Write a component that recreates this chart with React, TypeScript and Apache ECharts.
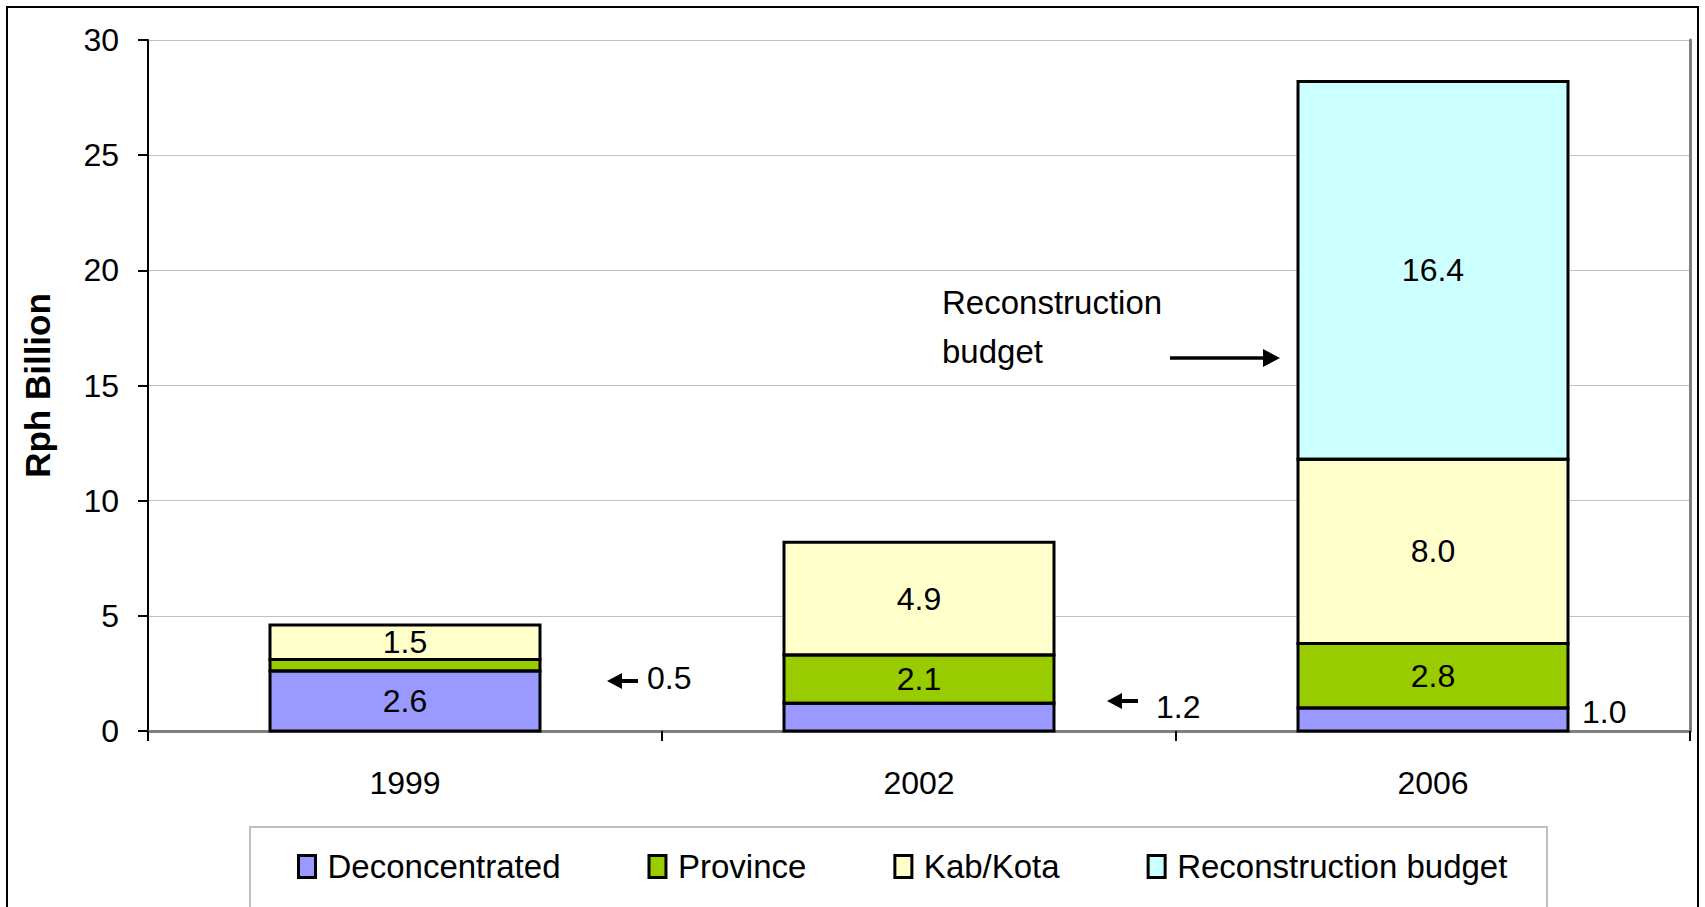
import React, { useEffect, useRef } from "react";
import * as echarts from "echarts";

const years = ["1999", "2002", "2006"];
const deconcentrated: (number | null)[] = [2.6, 1.2, 1.0];
const province: (number | null)[] = [0.5, 2.1, 2.8];
const kabKota: (number | null)[] = [1.5, 4.9, 8.0];
const reconstruction: (number | null)[] = [null, null, 16.4];
const seriesNames = ["Deconcentrated", "Province", "Kab/Kota", "Reconstruction budget"];
const seriesValues = [deconcentrated, province, kabKota, reconstruction];
const yMin = 0;
const yMax = 30;
const yInterval = 5;
const yAxisTitle = "Rph Billion";
const noteLines = ["Reconstruction", "budget"];

// segment values whose labels sit outside their bar
const outsideLabels = [
  { seriesIndex: 1, cat: 0 },
  { seriesIndex: 0, cat: 1 },
  { seriesIndex: 0, cat: 2 },
];

const colors = ["#9999ff", "#99cc00", "#ffffcc", "#ccffff"];
const FONT = "Liberation Sans, Arial, sans-serif";
const BAR_WIDTH = 270;

// pixel placement of outside labels relative to category centre / zero line
const outsideLayout = [
  { arrow: true, tipDx: 202, arrowDy: -50, textDx: 242, textDy: -53 },
  { arrow: true, tipDx: 188, arrowDy: -30, textDx: 237, textDy: -24 },
  { arrow: false, tipDx: 0, arrowDy: 0, textDx: 149, textDy: -19 },
];

export default function App() {
  const ref = useRef<HTMLDivElement>(null);
  useEffect(() => {
    if (!ref.current) return;
    const chart = echarts.init(ref.current, undefined, { renderer: "svg" });
    const isOutside = (si: number, ci: number) =>
      outsideLabels.some((o) => o.seriesIndex === si && o.cat === ci);

    const barSeries = seriesNames.map((name, si) => ({
      name,
      type: "bar",
      stack: "total",
      barWidth: BAR_WIDTH,
      xAxisIndex: 0,
      yAxisIndex: 0,
      itemStyle: { color: colors[si], borderWidth: 0 },
      label: {
        show: true,
        position: "inside",
        color: "#000",
        fontSize: 32,
        fontFamily: FONT,
        formatter: (p: any) => Number(p.value).toFixed(1),
      },
      data: seriesValues[si].map((v, ci) =>
        v === null ? "-" : isOutside(si, ci) ? { value: v, label: { show: false } } : v
      ),
    }));

    // outline segments: [category, bottom, top] built from the stacked values
    const segments: number[][] = [];
    years.forEach((_, ci) => {
      let acc = 0;
      seriesValues.forEach((vals) => {
        const v = vals[ci];
        if (v === null || v === undefined) return;
        segments.push([ci, acc, acc + v]);
        acc += v;
      });
    });

    const outlineSeries = {
      type: "custom",
      name: "outlines",
      xAxisIndex: 0,
      yAxisIndex: 0,
      z: 3,
      silent: true,
      data: segments,
      renderItem: (params: any, api: any) => {
        const cat = api.value(0);
        const p0 = api.coord([cat, api.value(1)]);
        const p1 = api.coord([cat, api.value(2)]);
        return {
          type: "rect",
          shape: { x: p0[0] - BAR_WIDTH / 2, y: p1[1], width: BAR_WIDTH, height: p0[1] - p1[1] },
          style: { fill: "none", stroke: "#000", lineWidth: 3 },
        };
      },
    };

    const customSeries = {
      type: "custom",
      name: "outsideLabels",
      xAxisIndex: 0,
      yAxisIndex: 0,
      z: 10,
      silent: true,
      data: outsideLabels.map((o) => [o.cat, seriesValues[o.seriesIndex][o.cat]]),
      renderItem: (params: any, api: any) => {
        const i = params.dataIndex;
        const cat = api.value(0);
        const val = api.value(1);
        const base = api.coord([cat, 0]);
        const L = outsideLayout[i];
        const children: any[] = [];
        if (L.arrow) {
          const tx = base[0] + L.tipDx;
          const ty = base[1] + L.arrowDy;
          children.push({
            type: "line",
            shape: { x1: tx + 10, y1: ty, x2: tx + 31, y2: ty },
            style: { stroke: "#000", lineWidth: 4 },
          });
          children.push({
            type: "polygon",
            shape: { points: [[tx, ty], [tx + 15, ty - 8], [tx + 15, ty + 8]] },
            style: { fill: "#000" },
          });
        }
        children.push({
          type: "text",
          x: base[0] + L.textDx,
          y: base[1] + L.textDy,
          style: {
            text: Number(val).toFixed(1),
            fill: "#000",
            fontSize: 32,
            fontFamily: FONT,
            align: "left",
            verticalAlign: "middle",
          },
        });
        return { type: "group", children };
      },
    };

    chart.setOption({
      animation: false,
      backgroundColor: "#fff",
      grid: { left: 148, right: 15, top: 40, bottom: 176, containLabel: false },
      legend: {
        data: seriesNames,
        left: 297,
        top: 850,
        padding: 0,
        itemGap: 87,
        itemWidth: 17,
        itemHeight: 22,
        icon: "rect",
        textStyle: {
          fontSize: 33,
          fontFamily: FONT,
          color: "#000",
          lineHeight: 33,
          padding: [0, 0, 0, 7],
        },
        itemStyle: { borderColor: "#000", borderWidth: 3 },
      },
      xAxis: [
        {
          type: "category",
          data: years,
          position: "bottom",
          boundaryGap: true,
          axisLine: { show: true, lineStyle: { color: "#000", width: 2 } },
          axisTick: { show: true, length: 10, lineStyle: { color: "#000", width: 2 } },
          axisLabel: { fontSize: 32, fontFamily: FONT, color: "#000", margin: 36 },
          splitLine: { show: false },
        },
        {
          type: "category",
          data: years,
          position: "top",
          axisLine: { show: true, lineStyle: { color: "#808080", width: 3 } },
          axisTick: { show: false },
          axisLabel: { show: false },
          splitLine: { show: false },
        },
      ],
      yAxis: [
        {
          type: "value",
          min: yMin,
          max: yMax,
          interval: yInterval,
          position: "left",
          name: yAxisTitle,
          nameLocation: "middle",
          nameRotate: 90,
          nameGap: 93,
          nameTextStyle: { fontSize: 35, fontWeight: "bold", fontFamily: FONT, color: "#000" },
          axisLine: { show: true, lineStyle: { color: "#000", width: 2 } },
          axisTick: { show: true, length: 10, lineStyle: { color: "#000", width: 2 } },
          axisLabel: { fontSize: 32, fontFamily: FONT, color: "#000", margin: 29 },
          splitLine: { show: true, lineStyle: { color: "#c0c0c0", width: 1 } },
        },
        {
          type: "value",
          min: yMin,
          max: yMax,
          interval: yInterval,
          position: "right",
          axisLine: { show: true, lineStyle: { color: "#808080", width: 3 } },
          axisTick: { show: false },
          axisLabel: { show: false },
          splitLine: { show: false },
        },
      ],
      graphic: [
        {
          type: "rect",
          shape: { x: 7, y: 7, width: 1691, height: 1000 },
          style: { fill: "none", stroke: "#000", lineWidth: 2 },
          silent: true,
        },
        {
          type: "rect",
          shape: { x: 250, y: 827, width: 1297, height: 200 },
          style: { fill: "none", stroke: "#c0c0c0", lineWidth: 2 },
          silent: true,
          z: -1,
        },
        {
          type: "text",
          x: 942,
          y: 302,
          style: { text: noteLines[0], fill: "#000", fontSize: 33, fontFamily: FONT, align: "left", verticalAlign: "middle" },
        },
        {
          type: "text",
          x: 942,
          y: 351,
          style: { text: noteLines[1], fill: "#000", fontSize: 33, fontFamily: FONT, align: "left", verticalAlign: "middle" },
        },
        {
          type: "line",
          shape: { x1: 1170, y1: 358, x2: 1266, y2: 358 },
          style: { stroke: "#000", lineWidth: 3.5 },
        },
        {
          type: "polygon",
          shape: { points: [[1280, 358], [1263, 349], [1263, 367]] },
          style: { fill: "#000" },
        },
      ],
      series: [...barSeries, outlineSeries, customSeries],
    });
    return () => chart.dispose();
  }, []);
  return (
    <div
      ref={ref}
      style={{ position: "fixed", left: 0, top: 0, width: 1705, height: 907, background: "#fff" }}
    />
  );
}
